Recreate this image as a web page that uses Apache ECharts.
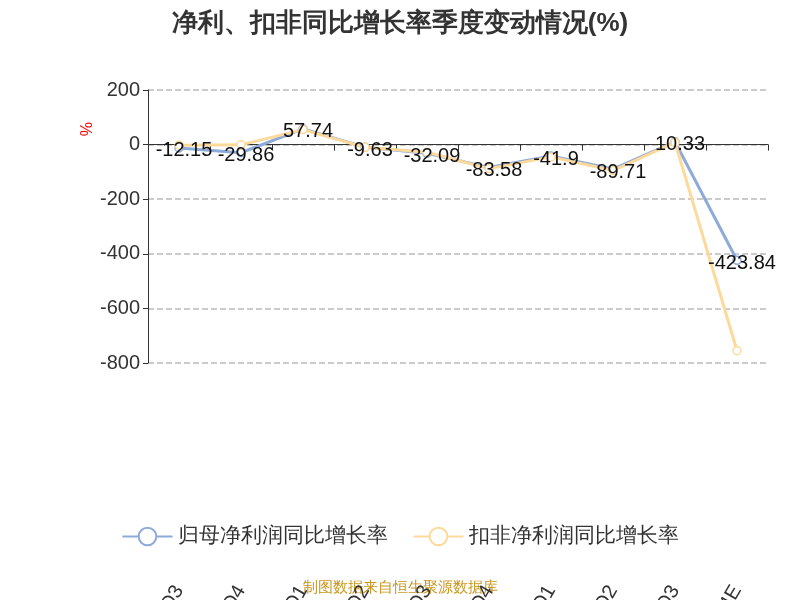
<!DOCTYPE html>
<html>
<head>
<meta charset="utf-8">
<script src="https://cdn.jsdelivr.net/npm/echarts@6/dist/echarts.min.js"></script>
</head>
<body style="margin:0">
<div id="chart" style="width:800px;height:600px"></div>
<script>
// 季度
const quarters = ['2023Q3', '2023Q4', '2024Q1', '2024Q2', '2024Q3', '2024Q4', '2025Q1', '2025Q2', '2025Q3', '2025Q4E']
// 归母净利润同比增长率
const netProfitYoY = [-12.15, -29.86, 57.74, -9.63, -32.09, -83.58, -41.9, -89.71, 10.33, -423.84]
// 扣非净利润同比增长率
const deductedYoY = [-2, -1, 55, -10, -28, -88, -45, -95, 8, -755]

const chart = echarts.init(document.getElementById('chart'))
chart.setOption({
    title: {
        text: '净利、扣非同比增长率季度变动情况(%)',
        left: 'center', top: 6,
        textStyle: {fontSize: 26, fontWeight: 'bold', color: '#333'}
    },
    legend: {
        bottom: 48, itemWidth: 50, itemHeight: 22, itemGap: 25,
        textStyle: {fontSize: 21, color: '#333'},
        data: ['归母净利润同比增长率', '扣非净利润同比增长率']
    },
    graphic: [{
        type: 'text', left: 'center', top: 580,
        style: {text: '制图数据来自恒生聚源数据库', fill: '#c8961e', fontSize: 15}
    }, {
        type: 'text', left: 80, top: 122, rotation: Math.PI / 2,
        style: {text: '%', fill: 'red', fontSize: 16}
    }],
    grid: {left: 148, right: 32, top: 90, bottom: 237, outerBoundsMode: 'none', containLabel: false},
    xAxis: {
        type: 'category', data: quarters, boundaryGap: true,
        axisLine: {onZero: true, lineStyle: {color: '#333'}},
        axisTick: {show: true, length: 6},
        axisLabel: {rotate: 60, fontSize: 20, color: '#333', margin: 224}
    },
    yAxis: {
        type: 'value', min: -800, max: 200, interval: 200,
        axisLine: {show: true, lineStyle: {color: '#333'}},
        axisTick: {show: true},
        axisLabel: {fontSize: 20, color: '#333'},
        splitLine: {lineStyle: {type: 'dashed', color: '#bbb', width: 1.5}}
    },
    series: [{
        name: '归母净利润同比增长率', type: 'line', data: netProfitYoY,
        symbol: 'circle', symbolSize: 8,
        lineStyle: {width: 3, color: '#8eabd8'},
        itemStyle: {color: '#fff', borderColor: '#8eabd8', borderWidth: 1.5},
        label: {show: true, fontSize: 20, color: '#111', position: 'inside', offset: [5, 3]}
    }, {
        name: '扣非净利润同比增长率', type: 'line', data: deductedYoY,
        symbol: 'circle', symbolSize: 8,
        lineStyle: {width: 3, color: '#fdd99b'},
        itemStyle: {color: '#fff', borderColor: '#fdd99b', borderWidth: 1.5}
    }]
})
</script>
</body>
</html>
